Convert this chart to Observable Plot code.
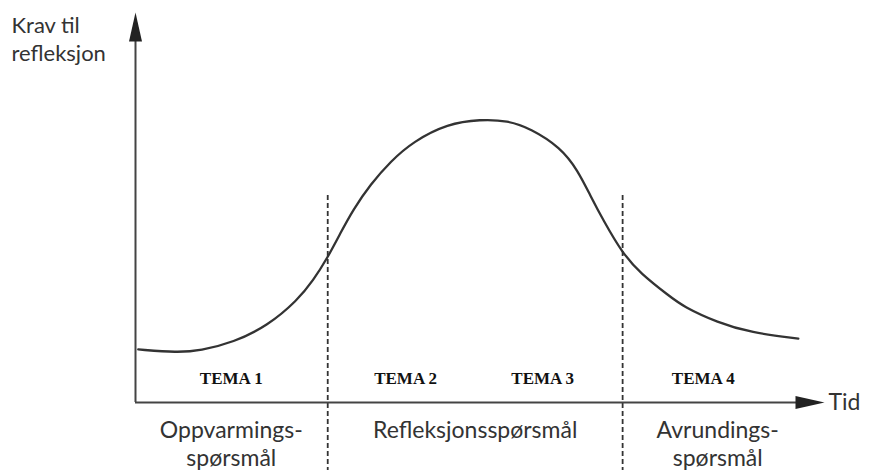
<!DOCTYPE html>
<html>
<head>
<meta charset="utf-8">
<script src="https://cdn.jsdelivr.net/npm/d3@7"></script>
<script src="https://cdn.jsdelivr.net/npm/@observablehq/plot@0.6"></script>
<style>
  html, body { margin: 0; padding: 0; background: #fff; }
</style>
</head>
<body>
<div id="chart"></div>
<script>
// Curve: time (0–10) vs. demand for reflection (0–10)
const curveT = [0.04, 0.61, 0.94, 1.42, 1.92, 2.35, 2.58, 2.79, 2.97, 3.16, 3.41, 3.70, 4.03, 4.53, 5.01, 5.40, 5.73, 6.17, 6.42, 6.60, 6.79, 7.07, 7.33, 7.74, 7.95, 8.45, 8.93, 9.62];
const curveV = [1.36, 1.28, 1.33, 1.54, 1.97, 2.62, 3.13, 3.72, 4.33, 4.95, 5.59, 6.18, 6.69, 7.15, 7.26, 7.23, 7.03, 6.54, 5.95, 5.31, 4.67, 3.82, 3.31, 2.74, 2.46, 2.05, 1.79, 1.64];

// Phase boundaries (dashed lines)
const boundaries = [2.79, 7.07];

// Themes
const temaLabels = ["TEMA 1", "TEMA 2", "TEMA 3", "TEMA 4"];
const temaT = [1.39, 3.92, 5.91, 8.24];

// Phase labels below the time axis
const phaseLabels = ["Oppvarmings-\nspørsmål", "Refleksjonsspørsmål", "Avrundings-\nspørsmål"];
const phaseT = [1.39, 4.93, 8.45];

// Axis titles
const yTitle = "Krav til\nrefleksjon";
const xTitle = "Tid";

const curve = curveT.map((t, i) => ({t, v: curveV[i]}));
const temas = temaLabels.map((label, i) => ({label, t: temaT[i]}));
const phases = phaseLabels.map((label, i) => ({label, t: phaseT[i]}));

const arrowHead = {
  draw(ctx) {
    ctx.moveTo(0, 0);
    ctx.lineTo(6.5, 29);
    ctx.lineTo(-6.5, 29);
    ctx.closePath();
  }
};

const ink = "#333";
const sans = "Lato, 'Open Sans', sans-serif";

const chart = Plot.plot({
  width: 869,
  height: 470,
  marginLeft: 135,
  marginRight: 45,
  marginTop: 12,
  marginBottom: 68,
  x: {domain: [0, 10], axis: null},
  y: {domain: [0, 10], axis: null},
  style: {background: "#fff", overflow: "visible"},
  marks: [
    // dashed phase boundaries
    Plot.ruleX(boundaries, {y1: 5.31, y2: -1.75, stroke: "#333", strokeWidth: 1.8, strokeDasharray: "5,3"}),
    // axes
    Plot.ruleX([0], {y1: 0, y2: 9.5, stroke: "#444", strokeWidth: 2}),
    Plot.ruleY([0], {x1: 0, x2: 9.7, stroke: "#444", strokeWidth: 2}),
    Plot.dot([{t: 0, v: 10}], {x: "t", y: "v", symbol: arrowHead, fill: "#222", stroke: null}),
    Plot.dot([{t: 10, v: 0}], {x: "t", y: "v", symbol: arrowHead, rotate: 90, fill: "#222", stroke: null}),
    // curve
    Plot.line(curve, {x: "t", y: "v", curve: "basis", stroke: "#333", strokeWidth: 2.3}),
    // TEMA labels
    Plot.text(temas, {x: "t", y: 0.62, text: "label", fontFamily: "'Liberation Serif', 'Times New Roman', serif", fontWeight: "bold", fontSize: 17, fill: "#111"}),
    // phase labels
    Plot.text(phases, {x: "t", y: 0, text: "label", lineAnchor: "top", dy: 16, lineHeight: 1.22, fontFamily: sans, fontSize: 23, fill: ink}),
    // axis titles
    Plot.text([yTitle], {x: 0, y: 10, text: d => d, textAnchor: "start", lineAnchor: "top", dx: -124, dy: 0, lineHeight: 1.3, fontFamily: sans, fontSize: 22, fill: ink}),
    Plot.text([xTitle], {x: 10, y: 0, text: d => d, textAnchor: "start", dx: 4, fontFamily: sans, fontSize: 23, fill: ink})
  ]
});
document.getElementById("chart").appendChild(chart);
</script>
</body>
</html>
